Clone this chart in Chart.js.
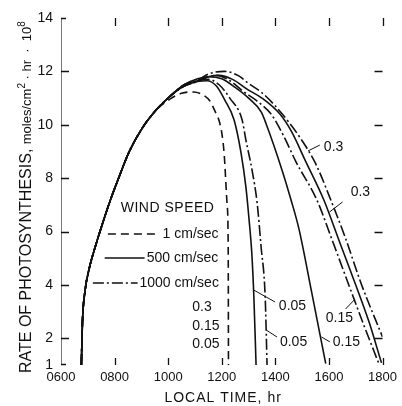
<!DOCTYPE html>
<html>
<head>
<meta charset="utf-8">
<script src="https://cdn.jsdelivr.net/npm/chart.js@4.4.1/dist/chart.umd.min.js"></script>
<style>
  html, body { margin: 0; padding: 0; background: #fff; }
  #wrap { width: 402px; height: 406px; }
</style>
</head>
<body>
<div id="wrap"><canvas id="photoChart"></canvas></div>
<script>
// local time (hours) and rate of photosynthesis (moles/cm2.hr x 10^8)
// morning rise is the same for every curve
const riseHours = [6.76, 6.80, 6.90, 7.05, 7.30, 7.55, 7.85, 8.15, 8.55, 9.05, 9.55];
const riseRates = [1.0, 2.6, 3.8, 4.6, 5.5, 6.3, 7.2, 8.0, 9.0, 9.9, 10.55];

// 1 cm/sec (0.3, 0.15 and 0.05 all lie on one curve)
const slowHours = [10.05, 10.5, 10.95, 11.3, 11.55, 11.75, 11.9, 12.0, 12.09, 12.2, 12.24, 12.25];
const slowRates = [10.95, 11.18, 11.23, 11.12, 10.9, 10.5, 10.15, 9.7, 8.9, 7.0, 5.4, 1.0];

// 500 cm/sec
const mid05Hours = [10.05, 10.6, 11.1, 11.45, 11.8, 12.1, 12.46, 12.72, 12.9, 13.02, 13.12, 13.2, 13.28];
const mid05Rates = [11.05, 11.45, 11.62, 11.65, 11.45, 10.95, 10.18, 8.94, 7.67, 6.43, 5.2, 3.5, 1.0];
const mid15Hours = [10.05, 10.6, 11.1, 11.5, 12.0, 12.5, 13.0, 13.47, 13.65, 14.25, 14.58, 14.88, 15.36, 15.88];
const mid15Rates = [11.05, 11.5, 11.72, 11.8, 11.72, 11.4, 11.0, 10.48, 10.05, 8.3, 7.2, 6.1, 3.7, 1.05];
const mid30Hours = [10.05, 10.6, 11.1, 11.5, 11.9, 12.4, 13.0, 13.5, 14.17, 14.6, 15.14, 15.81, 16.4, 17.0, 17.5, 17.96];
const mid30Rates = [11.05, 11.5, 11.65, 11.8, 11.85, 11.7, 11.3, 11.0, 10.4, 9.75, 8.61, 7.18, 5.6, 4.0, 2.6, 1.08];

// 1000 cm/sec
const fast05Hours = [10.05, 10.6, 11.1, 11.5, 11.9, 12.3, 12.76, 12.9, 13.13, 13.32, 13.47, 13.62, 13.69];
const fast05Rates = [11.05, 11.45, 11.65, 11.7, 11.5, 11.0, 10.18, 9.43, 8.3, 7.07, 5.4, 3.55, 1.0];
const fast15Hours = [10.05, 10.6, 11.1, 11.5, 11.8, 12.3, 12.8, 13.3, 13.84, 14.3, 14.77, 15.55, 16.15, 16.74, 17.3, 17.85];
const fast15Rates = [11.05, 11.5, 11.62, 11.8, 11.85, 11.65, 11.25, 10.9, 10.4, 9.6, 8.61, 7.18, 5.6, 4.0, 2.5, 1.08];
const fast30Hours = [10.05, 10.6, 11.0, 11.5, 12.1, 12.6, 13.0, 13.5, 14.0, 14.5, 15.0, 15.5, 16.07, 16.6, 17.22, 18.0];
const fast30Rates = [11.05, 11.45, 11.6, 11.9, 12.0, 11.85, 11.55, 11.2, 10.7, 10.1, 9.4, 8.55, 7.18, 5.8, 4.0, 2.05];

// axis ticks
const hourTicks = [6, 8, 10, 12, 14, 16, 18];
const rateTicks = [1, 2, 4, 6, 8, 10, 12, 14];

const FONT = '"Liberation Sans", Arial, sans-serif';
const INK = '#111';
const DASHED = [8, 5];
const DASHDOT = [11, 3, 2, 3];

function curve(hours, rates) {
  const pts = riseHours.map((h, i) => ({ x: h, y: riseRates[i] }));
  hours.forEach((h, i) => pts.push({ x: h, y: rates[i] }));
  return pts;
}

function lineSet(label, hours, rates, dash) {
  return {
    label: label,
    data: curve(hours, rates),
    borderColor: INK,
    borderWidth: 1.6,
    borderDash: dash,
    pointRadius: 0,
    cubicInterpolationMode: 'monotone',
    fill: false
  };
}

// number labels next to the curves, with short leaders (in data units)
const curveNotes = [
  { text: '0.3',  h: 10.9,  v: 3.18 },
  { text: '0.15', h: 10.9,  v: 2.46 },
  { text: '0.05', h: 10.9,  v: 1.79 },
  { text: '0.05', h: 14.13, v: 3.21, from: [13.19, 3.81], to: [13.99, 3.36] },
  { text: '0.05', h: 14.17, v: 1.87, from: [13.66, 2.31], to: [14.06, 2.05] },
  { text: '0.15', h: 15.88, v: 2.76, from: [16.95, 3.44], to: [16.62, 3.10] },
  { text: '0.15', h: 16.14, v: 1.87, from: [15.72, 2.05], to: [16.03, 1.87] },
  { text: '0.3',  h: 15.81, v: 9.17, from: [15.22, 9.02], to: [15.66, 9.24] },
  { text: '0.3',  h: 16.81, v: 7.48, from: [16.02, 6.73], to: [16.51, 7.11] }
];

// the wind speed key
const keyRows = [
  { text: '1 cm/sec',    dash: DASHED,  x0: 7.75, x1: 9.68, tx: 9.79, v: 5.91 },
  { text: '500 cm/sec',  dash: [],      x0: 7.63, x1: 9.12, tx: 9.20, v: 5.01 },
  { text: '1000 cm/sec', dash: DASHDOT, x0: 7.19, x1: 8.86, tx: 8.93, v: 4.07 }
];

const sketchExtras = {
  id: 'sketchExtras',
  afterDraw(chart) {
    const ctx = chart.ctx;
    const xs = chart.scales.x, ys = chart.scales.y;
    const a = chart.chartArea;
    const px = h => xs.getPixelForValue(h);
    const py = v => ys.getPixelForValue(v);
    ctx.save();

    // faint left axis line, inward ticks
    ctx.strokeStyle = '#777';
    ctx.lineWidth = 1;
    ctx.beginPath();
    ctx.moveTo(a.left + 0.5, a.top);
    ctx.lineTo(a.left + 0.5, a.bottom);
    ctx.stroke();

    ctx.strokeStyle = INK;
    ctx.lineWidth = 1.3;
    ctx.beginPath();
    hourTicks.slice(1).forEach(h => {
      const x = Math.round(px(h)) + 0.5;
      ctx.moveTo(x, a.bottom); ctx.lineTo(x, a.bottom - 7);
      ctx.moveTo(x, a.top); ctx.lineTo(x, a.top + 8);
    });
    rateTicks.filter(v => v > 1 && v < 14).forEach(v => {
      const y = Math.round(py(v)) + 0.5;
      ctx.moveTo(a.left, y); ctx.lineTo(a.left + 8, y);
      ctx.moveTo(a.right, y); ctx.lineTo(a.right - 8, y);
    });
    ctx.moveTo(a.left, a.top + 0.5); ctx.lineTo(a.left + 5, a.top + 0.5);
    ctx.moveTo(a.left, a.bottom - 0.5); ctx.lineTo(a.left + 5, a.bottom - 0.5);
    ctx.stroke();

    // key
    ctx.fillStyle = INK;
    ctx.textBaseline = 'middle';
    ctx.textAlign = 'left';
    ctx.font = '14px ' + FONT;
    ctx.letterSpacing = '0.5px';
    ctx.fillText('WIND SPEED', px(8.23), py(6.88));
    ctx.letterSpacing = '0px';
    ctx.lineWidth = 1.6;
    keyRows.forEach(r => {
      ctx.setLineDash(r.dash);
      ctx.beginPath();
      ctx.moveTo(px(r.x0), py(r.v));
      ctx.lineTo(px(r.x1), py(r.v));
      ctx.stroke();
      ctx.setLineDash([]);
      ctx.fillText(r.text, px(r.tx), py(r.v));
    });

    // curve labels
    ctx.lineWidth = 1;
    curveNotes.forEach(n => {
      ctx.fillText(n.text, px(n.h), py(n.v));
      if (n.from) {
        ctx.beginPath();
        ctx.moveTo(px(n.from[0]), py(n.from[1]));
        ctx.lineTo(px(n.to[0]), py(n.to[1]));
        ctx.stroke();
      }
    });

    // x title
    ctx.textAlign = 'center';
    ctx.font = '14px ' + FONT;
    ctx.letterSpacing = '1px';
    ctx.fillText('LOCAL TIME, hr', px(12.05), 398);
    ctx.letterSpacing = '0px';

    // y title, written bottom to top
    ctx.translate(31, 373);
    ctx.rotate(-Math.PI / 2);
    ctx.textAlign = 'left';
    ctx.textBaseline = 'alphabetic';
    let x = 0;
    const part = (t, size, rise) => {
      ctx.font = size + 'px ' + FONT;
      ctx.fillText(t, x, -rise);
      x += ctx.measureText(t).width;
    };
    part('RATE OF PHOTOSYNTHESIS, ', 16, 0);
    part('moles/cm', 13, 0);
    part('2', 10, 6);
    part(' \u00b7 hr  \u00b7  10', 13, 0);
    part('8', 10, 6);

    ctx.restore();
  }
};

new Chart(document.getElementById('photoChart'), {
  type: 'line',
  data: {
    datasets: [
      lineSet('1 cm/sec', slowHours, slowRates, DASHED),
      lineSet('500 cm/sec, 0.05', mid05Hours, mid05Rates, []),
      lineSet('500 cm/sec, 0.15', mid15Hours, mid15Rates, []),
      lineSet('500 cm/sec, 0.3', mid30Hours, mid30Rates, []),
      lineSet('1000 cm/sec, 0.05', fast05Hours, fast05Rates, DASHDOT),
      lineSet('1000 cm/sec, 0.15', fast15Hours, fast15Rates, DASHDOT),
      lineSet('1000 cm/sec, 0.3', fast30Hours, fast30Rates, DASHDOT)
    ]
  },
  options: {
    responsive: true,
    maintainAspectRatio: false,
    animation: false,
    layout: { padding: { top: 18, right: 18, left: 0, bottom: 0 } },
    plugins: { legend: { display: false }, tooltip: { enabled: false } },
    scales: {
      x: {
        type: 'linear',
        min: 6, max: 18,
        grid: { display: false, drawTicks: false },
        border: { display: false },
        afterBuildTicks: s => { s.ticks = hourTicks.map(v => ({ value: v })); },
        afterFit: s => { s.height = 41; },
        ticks: {
          autoSkip: false, maxRotation: 0, padding: 5, color: INK,
          font: { family: FONT, size: 13 },
          callback: v => String(v * 100).padStart(4, '0')
        }
      },
      y: {
        min: 1, max: 14,
        grid: { display: false, drawTicks: false },
        border: { display: false },
        afterBuildTicks: s => { s.ticks = rateTicks.map(v => ({ value: v })); },
        afterFit: s => { s.width = 61; },
        ticks: { autoSkip: false, padding: 8, color: INK, font: { family: FONT, size: 14 } }
      }
    }
  },
  plugins: [sketchExtras]
});
</script>
</body>
</html>
